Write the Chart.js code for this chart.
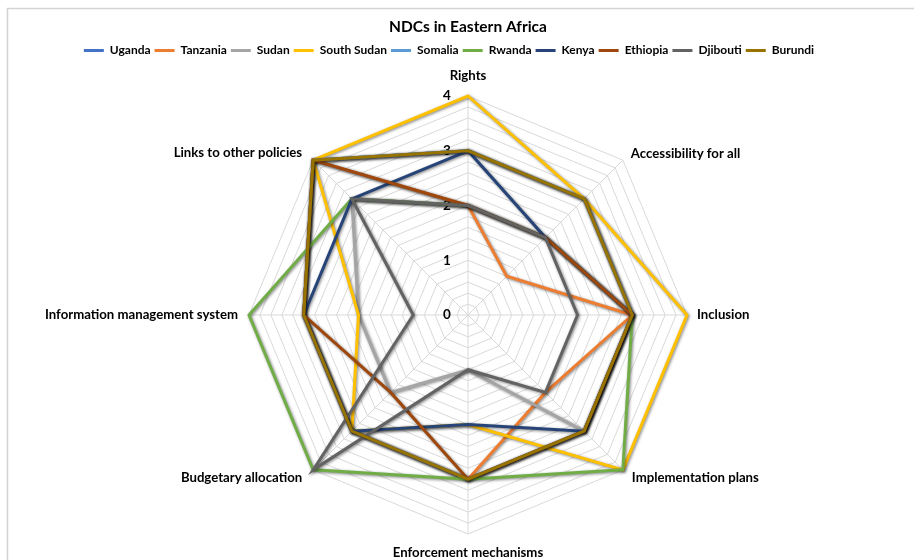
<!DOCTYPE html>
<html>
<head>
<meta charset="utf-8">
<title>NDCs in Eastern Africa</title>
<script src="https://cdn.jsdelivr.net/npm/chart.js@4.4.1/dist/chart.umd.min.js"></script>
<style>
  html, body { margin: 0; padding: 0; background: #ffffff; }
  canvas { display: block; }
</style>
</head>
<body>
<canvas id="ndc" width="914" height="560"></canvas>
<script>
// Assessment criteria (radar axes, clockwise from the top)
const categories = [
  'Rights',
  'Accessibility for all',
  'Inclusion',
  'Implementation plans',
  'Enforcement mechanisms',
  'Budgetary allocation',
  'Information management system',
  'Links to other policies'
];

// Country names, in legend order
const countries = ['Uganda', 'Tanzania', 'Sudan', 'South Sudan', 'Somalia',
                   'Rwanda', 'Kenya', 'Ethiopia', 'Djibouti', 'Burundi'];

// Scores per country, one value per criterion (same order as categories)
const uganda     = [3, 3, 3, 3, 3, 3, 3, 4];
const tanzania   = [2, 1, 3, 2, 3, 3, 3, 4];
const sudan      = [2, 2, 3, 3, 1, 2, 2, 3];
const southSudan = [4, 3, 4, 4, 2, 3, 2, 4];
const somalia    = [3, 3, 3, 3, 3, 3, 3, 4];
const rwanda     = [2, 2, 3, 4, 3, 4, 4, 3];
const kenya      = [3, 2, 3, 3, 2, 3, 3, 3];
const ethiopia   = [2, 2, 3, 3, 3, 2, 3, 4];
const djibouti   = [2, 2, 2, 2, 1, 4, 1, 3];
const burundi    = [3, 3, 3, 3, 3, 3, 3, 4];

// Labelled values on the radial axis
const tickValues = [0, 1, 2, 3, 4];

const seriesValues = [uganda, tanzania, sudan, southSudan, somalia,
                      rwanda, kenya, ethiopia, djibouti, burundi];

// Office-style series palette
const palette = ['#4472C4', '#ED7D31', '#A5A5A5', '#FFC000', '#5B9BD5',
                 '#70AD47', '#264478', '#9E480E', '#636363', '#997300'];

const FONT = "Lato, 'Open Sans', 'Liberation Sans', sans-serif";
const TEXT = '#000000';
const GRID = '#d9d9d9';

// Later series are painted on top of earlier ones
const datasets = countries.map((name, i) => ({
  label: name,
  data: seriesValues[i],
  borderColor: palette[i],
  backgroundColor: palette[i],
  borderWidth: 3,
  fill: false,
  tension: 0,
  pointRadius: 0,
  pointHoverRadius: 0,
  order: countries.length - 1 - i
}));

// White page with a light frame on its top and left edges
const framePlugin = {
  id: 'frame',
  beforeDraw(chart) {
    const ctx = chart.ctx;
    ctx.save();
    ctx.fillStyle = '#ffffff';
    ctx.fillRect(0, 0, chart.width, chart.height);
    ctx.strokeStyle = '#d4d4d4';
    ctx.lineWidth = 1.5;
    ctx.beginPath();
    ctx.moveTo(7.5, chart.height);
    ctx.lineTo(7.5, 8.5);
    ctx.lineTo(chart.width, 8.5);
    ctx.stroke();
    ctx.restore();
  }
};

// Leaves room between the legend row and the radar, and nudges the row left
const LEGEND_BLOCK = 55;
const LEGEND_SHIFT = -19;
const legendSpacePlugin = {
  id: 'legendSpace',
  beforeLayout(chart) {
    const lg = chart.legend;
    if (lg && !lg._spaced) {
      const fit = lg.fit;
      lg.fit = function () {
        fit.call(this);
        this.height = LEGEND_BLOCK;
      };
      lg._spaced = true;
    }
  },
  afterLayout(chart) {
    const lg = chart.legend;
    if (lg) {
      lg.left += LEGEND_SHIFT;
      lg.right += LEGEND_SHIFT;
    }
  }
};

// Radial tick numbers, set just left of the vertical axis
const tickTextPlugin = {
  id: 'tickText',
  beforeDatasetsDraw(chart) {
    const r = chart.scales.r;
    const ctx = chart.ctx;
    ctx.save();
    ctx.font = 'bold 13.5px ' + FONT;
    ctx.fillStyle = TEXT;
    ctx.textAlign = 'center';
    ctx.textBaseline = 'middle';
    tickValues.forEach(v => {
      const d = r.getDistanceFromCenterForValue(v);
      ctx.fillText(String(v), r.xCenter - 21, r.yCenter - d);
    });
    ctx.restore();
  }
};

// Soft drop shadow under each series line
const shadowPlugin = {
  id: 'lineShadow',
  beforeDatasetDraw(chart) {
    const ctx = chart.ctx;
    ctx.save();
    ctx.shadowColor = 'rgba(0,0,0,0.5)';
    ctx.shadowBlur = 3;
    ctx.shadowOffsetX = 1;
    ctx.shadowOffsetY = 1;
  },
  afterDatasetDraw(chart) {
    chart.ctx.restore();
  }
};

// Criterion names placed around the outer ring
const labelPlacement = [
  ['center',  0, -20],
  ['left',    8,  -6],
  ['left',   10,   0],
  ['left',    9,   8],
  ['center',  0,  19],
  ['right', -11,   8],
  ['right', -11,   0],
  ['right', -11,  -7]
];
const axisLabelPlugin = {
  id: 'axisLabels',
  afterDatasetsDraw(chart) {
    const r = chart.scales.r;
    const ctx = chart.ctx;
    ctx.save();
    ctx.font = 'bold 13.2px ' + FONT;
    ctx.fillStyle = TEXT;
    ctx.textBaseline = 'middle';
    categories.forEach((name, i) => {
      const p = r.getPointPositionForValue(i, r.max);
      const [align, dx, dy] = labelPlacement[i];
      ctx.textAlign = align;
      ctx.fillText(name, p.x + dx, p.y + dy);
    });
    ctx.restore();
  }
};

new Chart(document.getElementById('ndc'), {
  type: 'radar',
  data: { labels: categories, datasets },
  options: {
    responsive: false,
    animation: false,
    devicePixelRatio: 1,
    layout: { padding: { left: 22, right: 0, top: 0, bottom: 25 } },
    plugins: {
      title: {
        display: true,
        text: 'NDCs in Eastern Africa',
        color: TEXT,
        font: { family: FONT, size: 15.5, weight: 'bold' },
        padding: { top: 18, bottom: 4 }
      },
      legend: {
        position: 'top',
        labels: {
          boxWidth: 20,
          boxHeight: 3,
          padding: 4,
          color: TEXT,
          font: { family: FONT, size: 12, weight: 'bold' },
          generateLabels(chart) {
            return chart.data.datasets.map((ds, i) => ({
              text: ds.label,
              fillStyle: ds.borderColor,
              strokeStyle: ds.borderColor,
              lineWidth: 0,
              fontColor: TEXT,
              hidden: !chart.isDatasetVisible(i),
              datasetIndex: i
            }));
          }
        }
      },
      tooltip: { enabled: false }
    },
    scales: {
      r: {
        min: 0,
        max: 4,
        ticks: { stepSize: 0.2, display: false },
        grid: { color: GRID, lineWidth: 1 },
        angleLines: { color: GRID, lineWidth: 1 },
        pointLabels: { display: false }
      }
    }
  },
  plugins: [framePlugin, legendSpacePlugin, tickTextPlugin, shadowPlugin, axisLabelPlugin]
});
</script>
</body>
</html>
